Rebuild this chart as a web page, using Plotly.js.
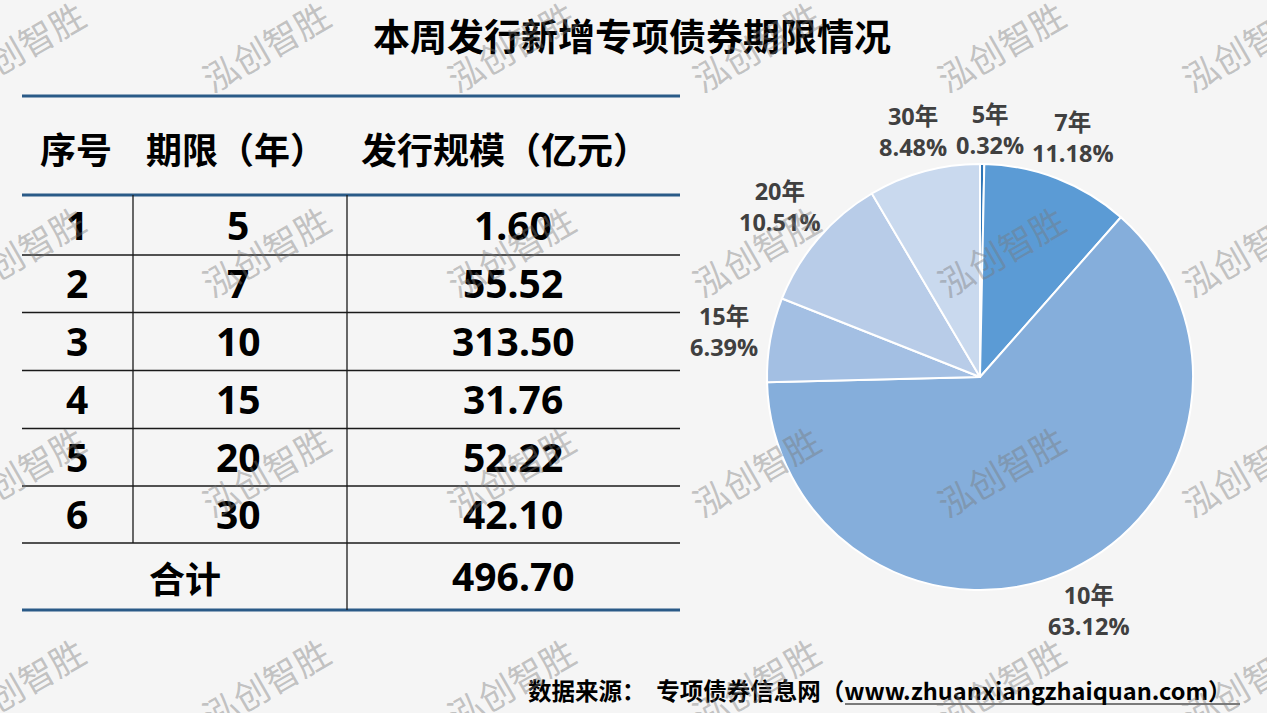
<!DOCTYPE html>
<html>
<head>
<meta charset="utf-8">
<script src="https://cdn.plot.ly/plotly-3.0.1.min.js"></script>
<style>
html,body{margin:0;padding:0;background:#f5f5f5;}
#chart{width:1267px;height:713px;}
</style>
</head>
<body>
<div id="chart"></div>
<script>
// ---- data ----
const seqNo = [1, 2, 3, 4, 5, 6];
const terms = [5, 7, 10, 15, 20, 30];
const amounts = [1.60, 55.52, 313.50, 31.76, 52.22, 42.10];
const pieLabels = ['5年', '7年', '10年', '15年', '20年', '30年'];
const pieColors = ['#2e75b6', '#5b9bd5', '#85aedb', '#a3bfe3', '#b8cce8', '#c9d9ee'];
const headers = ['序号', '期限（年）', '发行规模（亿元）'];
const totalLabel = '合计';
const titleText = '本周发行新增专项债券期限情况';
const sourceText = '数据来源：  专项债券信息网（www.zhuanxiangzhaiquan.com）';
const watermark = '泓创智胜';

// ---- layout helpers (pixel -> paper) ----
const W = 1267, H = 713;
const px = x => x / W;
const py = y => 1 - y / H;

const CJK = '"Noto Sans CJK SC", "Noto Sans", sans-serif';
const NUM = '"Noto Sans", "Noto Sans CJK SC", sans-serif';
const LBL = '"Open Sans", "Noto Sans CJK SC", sans-serif';

const annotations = [];
const shapes = [];

// title
annotations.push({
  text: titleText, xref: 'paper', yref: 'paper', x: px(632), y: py(35),
  xanchor: 'center', yanchor: 'middle', showarrow: false,
  font: {family: CJK, size: 37, color: '#000000', weight: 700}
});

// table geometry
const tL = 22, tR = 680;
const col1 = 133, col2 = 347;
const cx = [77, 238, 513];
const hx = [76, 236, 505];
const thickY = [96, 195, 610];
const thinY = [255, 312.5, 370.5, 428.5, 486, 543];
const headerY = 148;

thickY.forEach(y => shapes.push({type: 'line', xref: 'paper', yref: 'paper',
  x0: px(tL), x1: px(tR), y0: py(y), y1: py(y), line: {color: '#2a5a87', width: 3}}));
thinY.forEach(y => shapes.push({type: 'line', xref: 'paper', yref: 'paper',
  x0: px(tL), x1: px(tR), y0: py(y), y1: py(y), line: {color: '#1a1a1a', width: 1.3}}));
shapes.push({type: 'line', xref: 'paper', yref: 'paper', x0: px(col1), x1: px(col1),
  y0: py(thickY[1]), y1: py(thinY[5]), line: {color: '#1a1a1a', width: 1.3}});
shapes.push({type: 'line', xref: 'paper', yref: 'paper', x0: px(col2), x1: px(col2),
  y0: py(thickY[1]), y1: py(thickY[2]), line: {color: '#1a1a1a', width: 1.3}});

// headers
headers.forEach((h, i) => annotations.push({
  text: h, xref: 'paper', yref: 'paper', x: px(hx[i]), y: py(headerY),
  xanchor: 'center', yanchor: 'middle', showarrow: false,
  font: {family: CJK, size: 36, color: '#000000', weight: 700}
}));

// rows
const rowTops = [thickY[1]].concat(thinY);
seqNo.forEach((s, i) => {
  const yc = (rowTops[i] + rowTops[i + 1]) / 2;
  const cells = [String(s), String(terms[i]), amounts[i].toFixed(2)];
  cells.forEach((c, j) => annotations.push({
    text: c, xref: 'paper', yref: 'paper', x: px(cx[j]), y: py(yc - 1),
    xanchor: 'center', yanchor: 'middle', showarrow: false,
    font: {family: NUM, size: 39, color: '#000000', weight: 700}
  }));
});
const total = amounts.reduce((a, b) => a + b, 0);
const totY = (thinY[5] + thickY[2]) / 2;
annotations.push({text: totalLabel, xref: 'paper', yref: 'paper', x: px((tL + col2) / 2), y: py(totY),
  xanchor: 'center', yanchor: 'middle', showarrow: false,
  font: {family: CJK, size: 36, color: '#000000', weight: 700}});
annotations.push({text: total.toFixed(2), xref: 'paper', yref: 'paper', x: px(cx[2]), y: py(totY - 1),
  xanchor: 'center', yanchor: 'middle', showarrow: false,
  font: {family: NUM, size: 39, color: '#000000', weight: 700}});

// source line
annotations.push({text: sourceText, xref: 'paper', yref: 'paper', x: px(1234), y: py(690),
  xanchor: 'right', yanchor: 'middle', showarrow: false,
  font: {family: CJK, size: 23.5, color: '#000000', weight: 700}});
shapes.push({type: 'line', xref: 'paper', yref: 'paper', x0: px(845), x1: px(1240),
  y0: py(704), y1: py(704), line: {color: '#000000', width: 1}});

// pie
const pcx = 980, pcy = 377, R = 213;
const trace = {
  type: 'pie',
  values: amounts,
  labels: pieLabels,
  sort: false,
  direction: 'clockwise',
  rotation: 0,
  marker: {colors: pieColors, line: {color: '#ffffff', width: 2}},
  textinfo: 'none',
  hoverinfo: 'none',
  domain: {x: [px(pcx - R), px(pcx + R)], y: [py(pcy + R), py(pcy - R)]},
  showlegend: false
};

// data labels: outside-end placement at each slice's mid angle (derived from the values)
const lblSize = 23.5;
const gap = 14, halfW = 30, halfH = 20;
const pos = [];
let cum = 0;
amounts.forEach((v, i) => {
  const frac = v / total;
  const mid = (cum + frac / 2) * 2 * Math.PI;
  cum += frac;
  const s = Math.sin(mid), c = Math.cos(mid);
  const d = R + gap + halfW * Math.abs(s) + halfH * Math.abs(c);
  const pct = (frac * 100).toFixed(2) + '%';
  pos.push({x: pcx + d * s, y: pcy - d * c, s: s, w: pct.length * 0.6 * lblSize,
    text: pieLabels[i] + '<br>' + pct});
});
// simple collision avoidance: push the label nearer the vertical axis sideways
for (let i = 0; i < pos.length; i++) {
  for (let j = i + 1; j < pos.length; j++) {
    const a = pos[i], b = pos[j];
    const need = (a.w + b.w) / 2 + 6 - Math.abs(a.x - b.x);
    if (Math.abs(a.y - b.y) < 50 && need > 0) {
      const mover = Math.abs(a.s) < Math.abs(b.s) ? a : b;
      const other = mover === a ? b : a;
      mover.x += (mover.x >= other.x ? 1 : -1) * need;
    }
  }
}
pos.forEach(p => annotations.push({
  text: p.text, xref: 'paper', yref: 'paper', x: px(p.x), y: py(p.y),
  xanchor: 'center', yanchor: 'middle', showarrow: false, align: 'center',
  font: {family: LBL, size: lblSize, color: '#404040', weight: 700}
}));

// watermarks
const wmX = [20, 265, 510, 755, 1000, 1245];
const wmY = [45, 250, 470, 682];
wmY.forEach(y => wmX.forEach(x => annotations.push({
  text: watermark, xref: 'paper', yref: 'paper', x: px(x), y: py(y),
  xanchor: 'center', yanchor: 'middle', showarrow: false, textangle: -30,
  font: {family: CJK, size: 35, color: 'rgba(120,120,120,0.42)', weight: 400}
})));

const layout = {
  width: W, height: H,
  margin: {l: 0, r: 0, t: 0, b: 0},
  paper_bgcolor: '#f5f5f5',
  plot_bgcolor: '#f5f5f5',
  showlegend: false,
  annotations: annotations,
  shapes: shapes
};

Plotly.newPlot('chart', [trace], layout, {staticPlot: true, displayModeBar: false});
</script>
</body>
</html>
